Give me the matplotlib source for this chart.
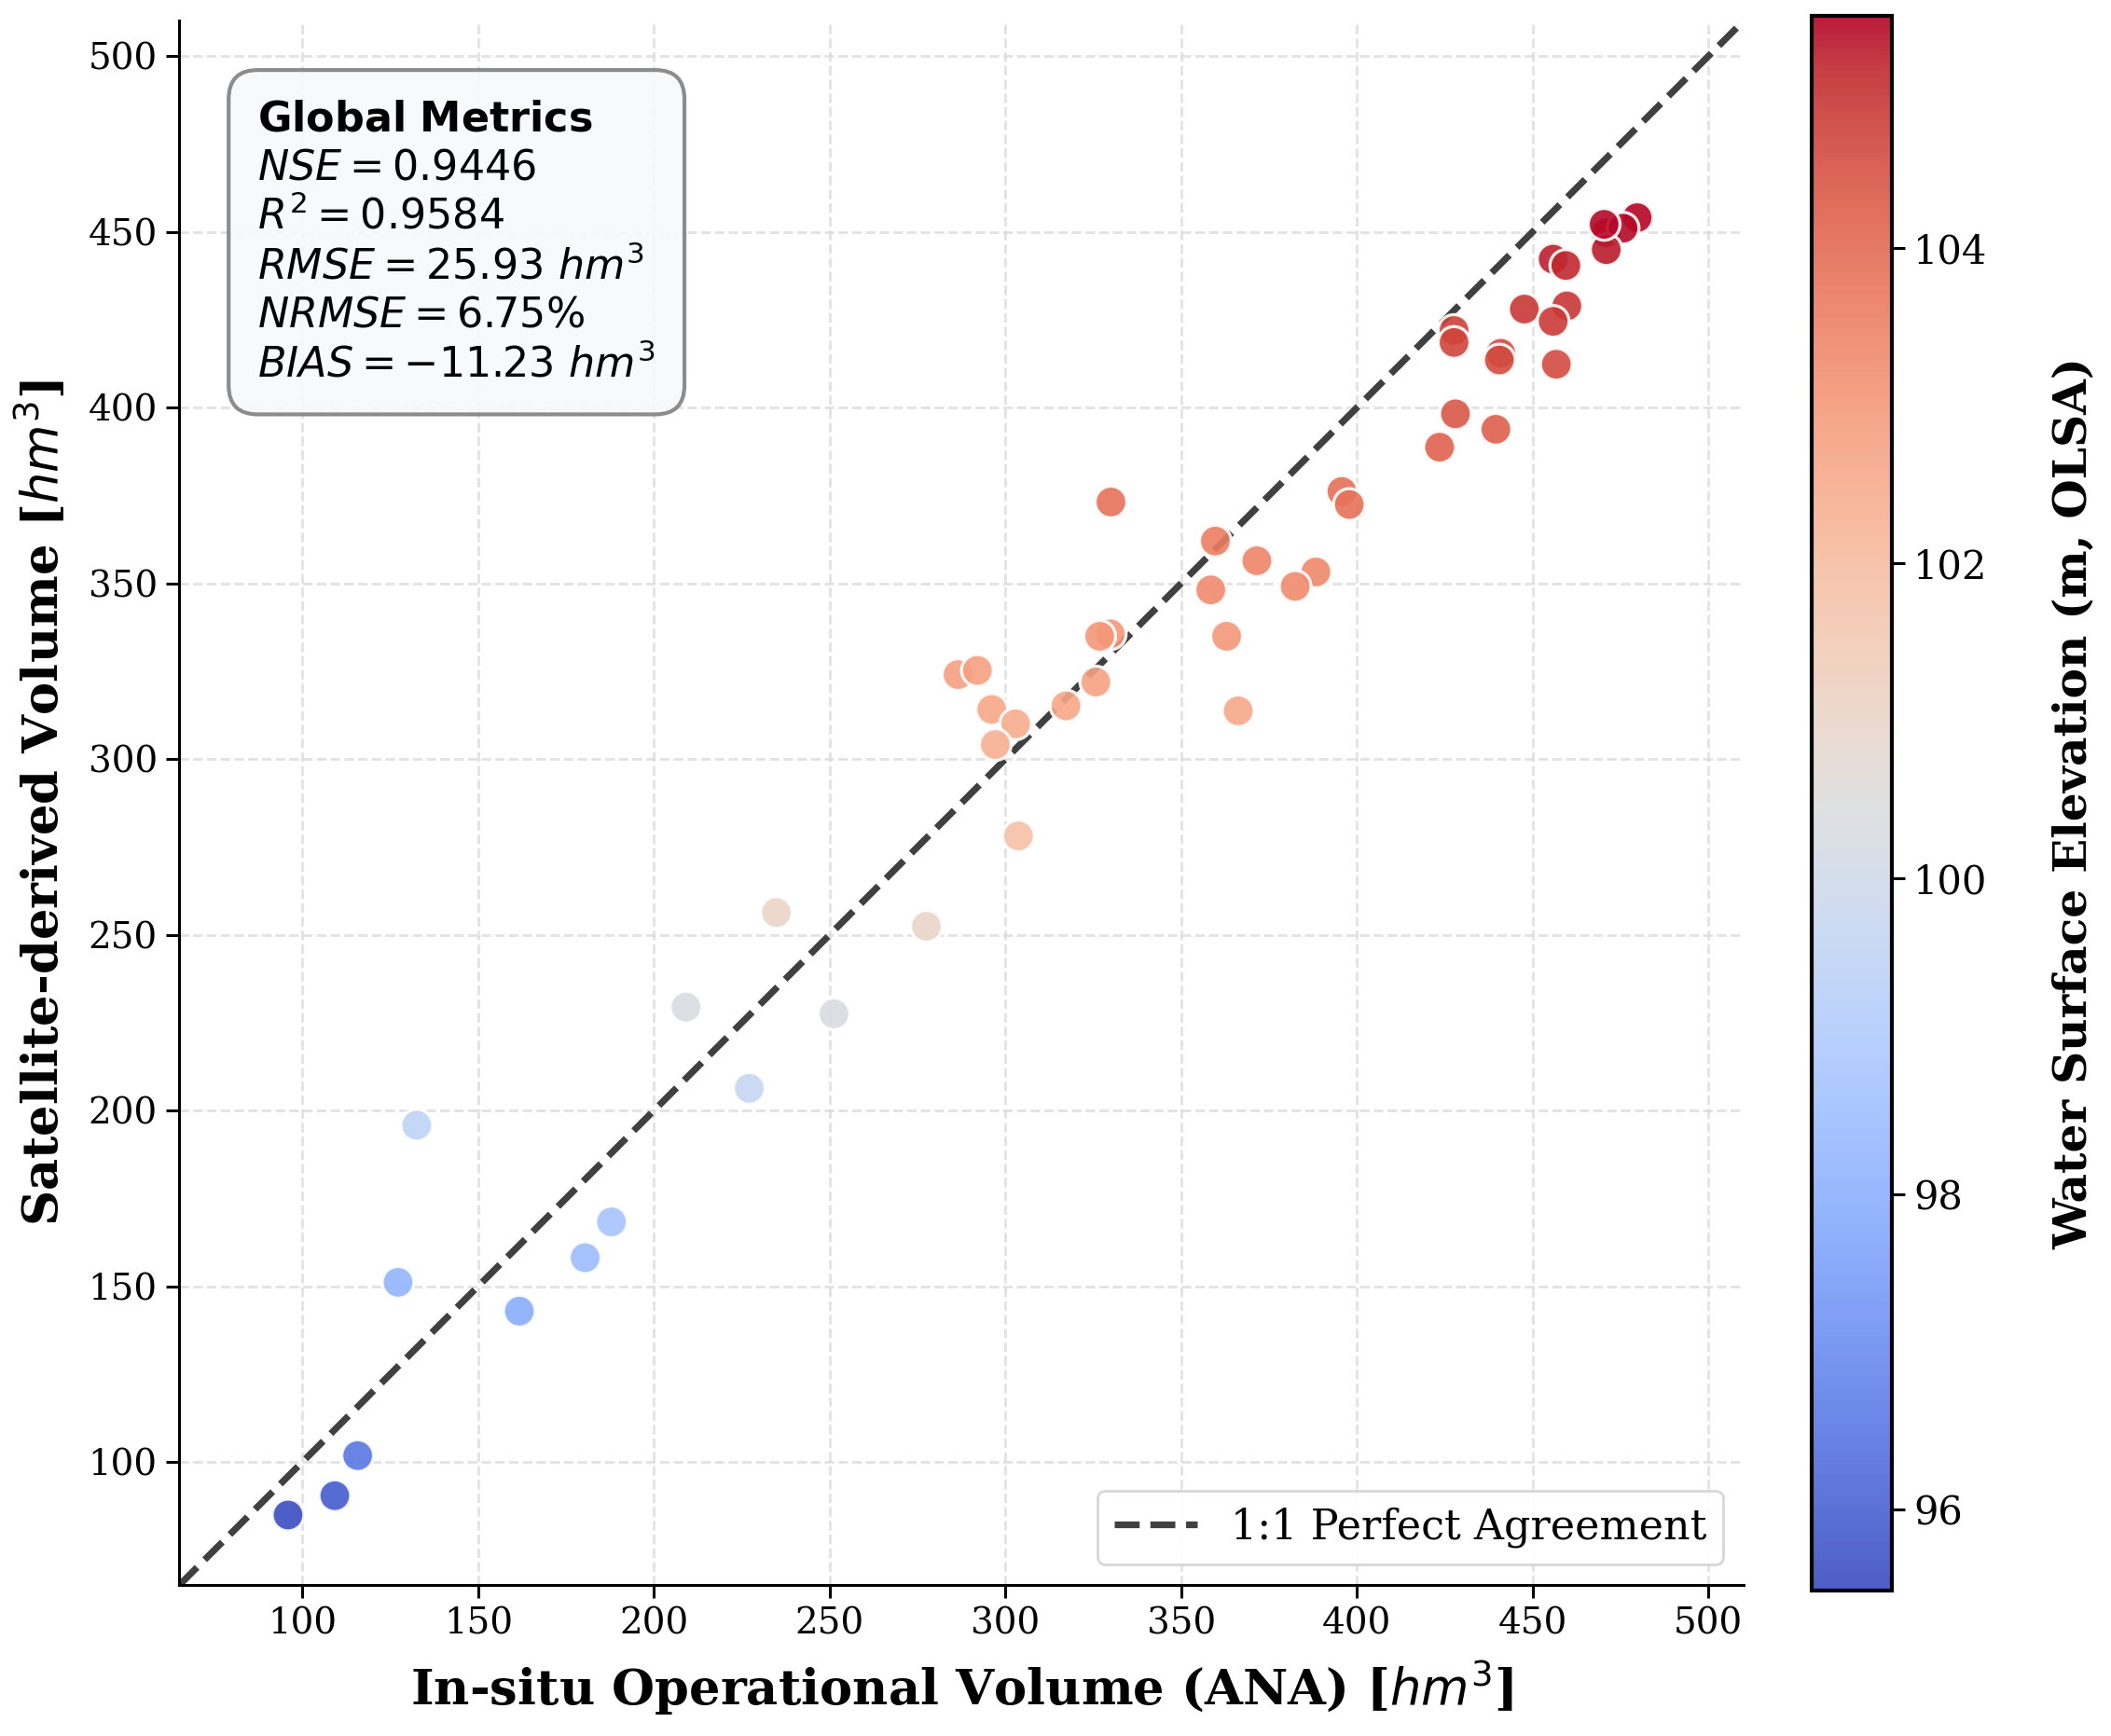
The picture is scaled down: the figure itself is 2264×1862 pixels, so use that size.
import matplotlib
matplotlib.use("Agg")
import matplotlib.pyplot as plt
import numpy as np

plt.rcParams['font.family'] = ['DejaVu Serif']
plt.rcParams['mathtext.fontset'] = 'dejavusans'

# In-situ (ANA) volume, satellite volume [hm3] and water surface elevation [m]
insitu_vol = [479.7, 470.9, 475.7, 470.9, 470.3, 455.8, 459.4, 447.6, 459.7, 455.8,
              456.7, 427.6, 427.6, 440.9, 440.5, 428.0, 439.5, 423.5, 330.0, 395.7,
              397.8, 359.7, 371.5, 388.3, 382.4, 358.4, 362.9, 366.2, 329.8, 326.8,
              325.7, 317.2, 286.5, 292.0, 296.1, 302.9, 297.1, 303.7, 277.5, 95.9,
              109.2, 115.7, 127.2, 132.5, 161.7, 180.4, 187.9, 227.1, 209.1, 251.2,
              234.8]
sat_vol = [454.0, 449.7, 451.0, 444.9, 452.1, 442.2, 440.4, 428.0, 428.9, 424.5,
           412.3, 421.9, 418.5, 415.4, 413.5, 398.2, 393.8, 388.7, 373.1, 376.1,
           372.4, 362.0, 356.4, 353.2, 349.1, 348.1, 334.9, 313.7, 335.6, 334.9,
           321.9, 315.1, 324.0, 325.2, 314.1, 310.0, 304.1, 278.1, 252.4, 84.9,
           90.4, 101.8, 151.1, 195.8, 142.9, 158.1, 168.3, 206.3, 229.4, 227.5,
           256.3]
wse = [105.47, 105.35, 105.4, 105.25, 105.4, 105.2, 105.15, 104.9, 104.95, 104.85,
       104.6, 104.8, 104.7, 104.65, 104.6, 104.35, 104.25, 104.15, 103.85, 103.9,
       103.85, 103.6, 103.45, 103.4, 103.3, 103.3, 103.05, 102.6, 103.05, 103.05,
       102.75, 102.6, 102.8, 102.8, 102.6, 102.5, 102.4, 101.85, 100.95, 95.49,
       95.85, 96.5, 98.15, 99.45, 97.9, 98.4, 98.7, 99.7, 100.35, 100.3,
       101.05]

metrics_text = ("$\\mathbf{Global\\ Metrics}$\n"
                "$NSE = 0.9446$\n"
                "$R^2 = 0.9584$\n"
                "$RMSE = 25.93\\ hm^3$\n"
                "$NRMSE = 6.75\\%$\n"
                "$BIAS = -11.23\\ hm^3$")

lims = (65, 510)
ticks = np.arange(100, 501, 50)

fig = plt.figure(figsize=(11.32, 9.31), dpi=200)
ax = fig.add_axes([0.085, 0.087, 0.741, 0.901])
cax = fig.add_axes([0.858, 0.084, 0.038, 0.907])

# 1:1 line behind the points
ax.plot(lims, lims, linestyle='--', color='#404040', lw=2.6, zorder=1,
        label='1:1 Perfect Agreement')

sc = ax.scatter(insitu_vol, sat_vol, c=wse, cmap='coolwarm', s=150,
                alpha=0.9, edgecolors='white', linewidths=1.2, zorder=3)

ax.set_xlim(lims)
ax.set_ylim(lims)
ax.set_xticks(ticks)
ax.set_yticks(ticks)
ax.grid(True, linestyle='--', color='#d9d9d9', alpha=0.75, lw=1.0, zorder=0)
ax.set_axisbelow(True)
ax.spines['top'].set_visible(False)
ax.spines['right'].set_visible(False)
for s in ['left', 'bottom']:
    ax.spines[s].set_linewidth(1.1)
ax.tick_params(labelsize=14, length=5, width=1.1)

ax.set_xlabel('In-situ Operational Volume (ANA) [$hm^3$]', fontsize=19,
              fontweight='bold', labelpad=6.5)
ax.set_ylabel('Satellite-derived Volume [$hm^3$]', fontsize=19,
              fontweight='bold', labelpad=7.5)

ax.text(0.05, 0.95, metrics_text, transform=ax.transAxes, fontsize=16,
        va='top', ha='left', linespacing=1.25,
        bbox=dict(boxstyle='round,pad=0.7', facecolor='#f8f9fa',
                  edgecolor='gray', alpha=0.9, lw=1.5))

leg = ax.legend(loc='lower right', fontsize=16, frameon=True, fancybox=True,
                edgecolor='lightgray', framealpha=0.9)

cbar = fig.colorbar(sc, cax=cax)
cbar.set_label('Water Surface Elevation (m, OLSA)', fontsize=17.5,
               fontweight='bold', labelpad=25)
cbar.ax.tick_params(labelsize=15, length=5, width=1.1)
cbar.outline.set_linewidth(1.5)

fig.savefig('out.png', dpi=200)
